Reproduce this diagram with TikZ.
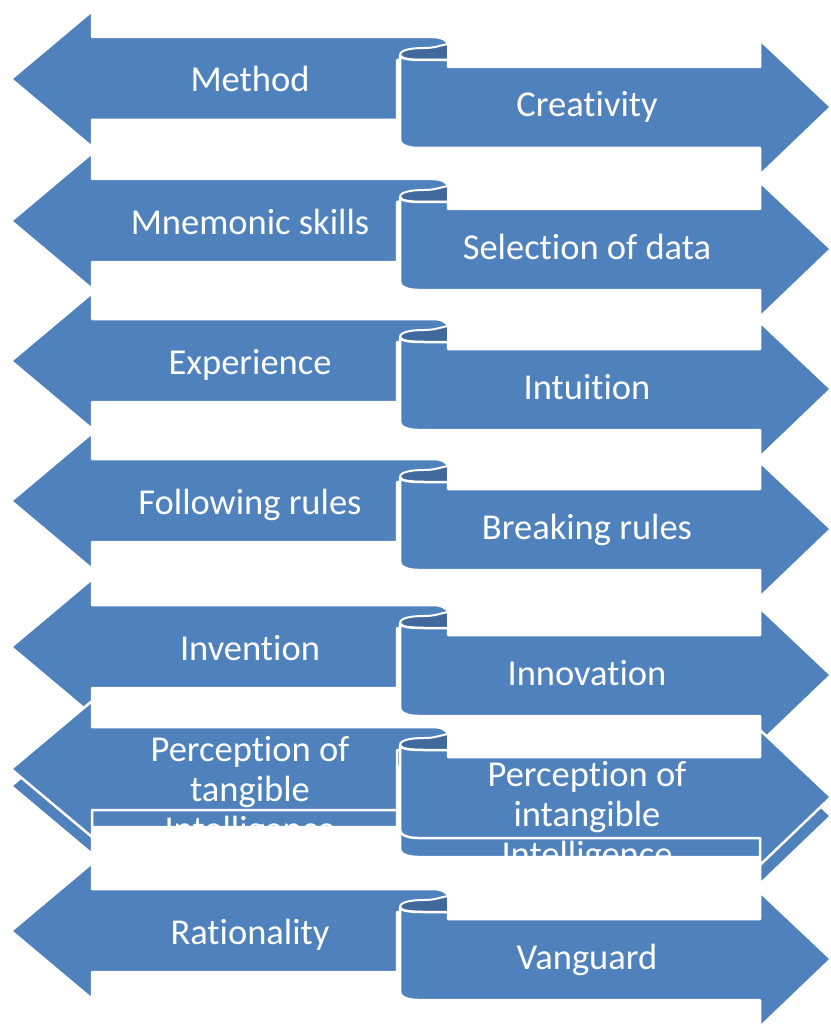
\documentclass[tikz,border=0pt]{standalone}
\usepackage{fontspec}
\setmainfont{Carlito}[Ligatures=NoCommon]
\definecolor{ribbon}{HTML}{4F81BD}
\definecolor{ribbondark}{HTML}{41699B}
\tikzset{
  ribbonfill/.style={fill=ribbon, draw=white, line width=2.5pt, line join=round},
  rollfill/.style={fill=ribbondark, draw=white, line width=2pt, line join=round},
  lbl/.style={text=white, inner sep=0pt, font=\fontsize{36.5}{40}\selectfont},
}
% left-pointing arrow whose tail rolls up; #1 = vertical centre
\newcommand\leftribbon[1]{%
  \path[ribbonfill] (11,#1) -- (92,#1-68) -- (92,#1-42) -- (433,#1-42)
    .. controls (441,#1-42) and (448,#1-39) .. (448,#1-34) -- (448,#1-19)
    -- (397,#1-19) -- (397,#1+41) -- (92,#1+41) -- (92,#1+68) -- cycle;}
% inside of the roll
\newcommand\rollinside[1]{%
  \path[rollfill] (400,#1-24) .. controls (400,#1-29) and (411,#1-31) .. (424,#1-31)
    .. controls (436,#1-31) and (441,#1-34) .. (448,#1-35) -- (448,#1-19) -- (424,#1-19)
    .. controls (411,#1-19) and (400,#1-20) .. (400,#1-24) -- cycle;}
% right-pointing arrow that starts from the roll; #1 = centre of the left arrow
\newcommand\rightribbon[1]{%
  \path[ribbonfill] (400,#1-24) -- (400,#1+61)
    .. controls (400,#1+66) and (408,#1+69) .. (418,#1+69) -- (760,#1+69)
    -- (760,#1+96) -- (831,#1+28) -- (760,#1-39) -- (760,#1-12) -- (448,#1-12)
    -- (448,#1-19) -- (424,#1-19) .. controls (411,#1-19) and (400,#1-20) .. (400,#1-24) -- cycle;}
\begin{document}
\begin{tikzpicture}[x=1pt, y=-1pt]
\useasboundingbox (0,0) rectangle (830,1024);
\clip (0,0) rectangle (830,1024);

\foreach \c/\lt/\rt/\n in {79/Method/Creativity/1, 221/Mnemonic skills/Selection of data/2,
    361/Experience/Intuition/3, 501/Following rules/Breaking rules/4, 647/Invention/Innovation/5}{
  \leftribbon{\c}
  \rollinside{\c}
  \rightribbon{\c}
  \node[lbl, anchor=base] (left\n) at (250,{\c+13}) {\lt};
  \node[lbl, anchor=base] (right\n) at (587,{\c+38}) {\rt};
}

% sixth pair: the overflowing labels push a second copy out underneath
\leftribbon{786}
\rightribbon{788}
\leftribbon{769}
\rollinside{769}
\rightribbon{769}
% anchor=base is the baseline of the last line
\node[lbl, anchor=base, align=center] (left6) at (250,841) {Perception of\\tangible\\Intelligence};
\node[lbl, anchor=base, align=center] (right6) at (587,866) {Perception of\\intangible\\Intelligence};

% seventh pair
\leftribbon{931}
\rollinside{931}
\rightribbon{931}
\node[lbl, anchor=base] (left7) at (250,944) {Rationality};
\node[lbl, anchor=base] (right7) at (587,969) {Vanguard};
\end{tikzpicture}
\end{document}
